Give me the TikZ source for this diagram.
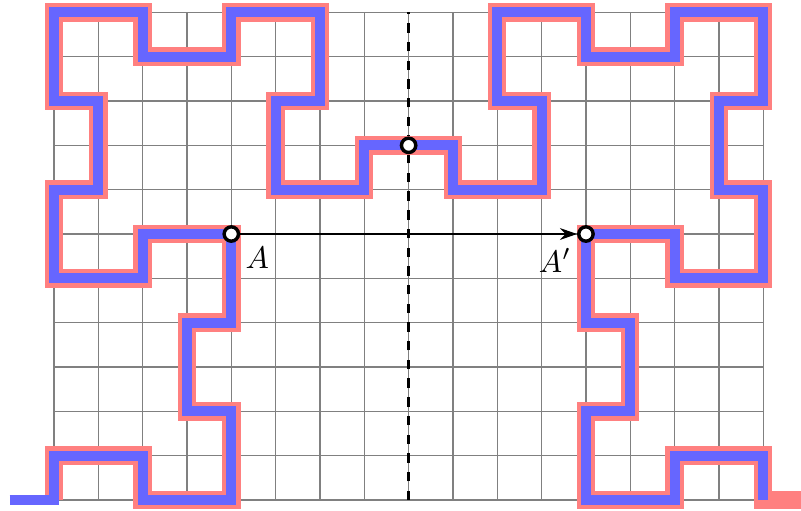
\documentclass[tikz,border=0pt]{standalone}
\usepackage{amsmath}
\usepackage{amssymb}
\usepackage{tikz}
\usetikzlibrary{arrows.meta, positioning}
\tikzstyle{arrow} = [semithick,->,>={Stealth[length=5.5pt, width=3.8pt]}]
\tikzstyle{dot} = [circle, minimum size=4.6pt, inner sep=0pt, line width=1.1pt, draw=black, fill=white]
\tikzstyle{gridline} = [gray, line width=0.4pt, step=0.5cm]
\tikzstyle{axis} = [thick, dashed]
\tikzstyle{redcurve} = [line width=5.9pt, draw=red!50]
\tikzstyle{bluecurve} = [line width=3.2pt, draw=blue!60]
\tikzstyle{tag} = [inner sep=0pt]
\newcommand{\curvepts}{0/1, 2/1, 2/0, 4/0, 4/2, 3/2, 3/4, 4/4, 4/6, 2/6, 2/5, 0/5, 0/7, 1/7, 1/9, 0/9, 0/11, 2/11, 2/10, 4/10, 4/11, 6/11, 6/9, 5/9, 5/7, 7/7, 7/8, 9/8, 9/7, 11/7, 11/9, 10/9, 10/11, 12/11, 12/10, 14/10, 14/11, 16/11, 16/9, 15/9, 15/7, 16/7, 16/5, 14/5, 14/6, 12/6, 12/4, 13/4, 13/2, 12/2, 12/0, 14/0, 14/1, 16/1, 16/0}
\begin{document}
\begin{tikzpicture}[x=0.5cm, y=0.5cm]
\useasboundingbox (-1.218,-0.226) rectangle (16.851,11.279);

\draw [gridline] (0,0) grid (16,11);
\draw [axis] (8,0) -- (8,11);

% mirror image underneath, curve on top
\draw [redcurve] (0,0) \foreach \x/\y in \curvepts {-- (\x,\y)} -- (17,0);
\draw [bluecurve] (-1,0) -- (0,0) \foreach \x/\y in \curvepts {-- (\x,\y)};

\node (a) [dot] at (4,6) {};
\node (c) [dot] at (8,8) {};
\node (ap) [dot] at (12,6) {};

\draw [arrow] (a) -- (ap);
\node [tag, below right=4.1pt and 4.4pt of a.center] {$A$};
\node [tag, below left=4.5pt and 4.6pt of ap.center] {$A'$};

\end{tikzpicture}
\end{document}
